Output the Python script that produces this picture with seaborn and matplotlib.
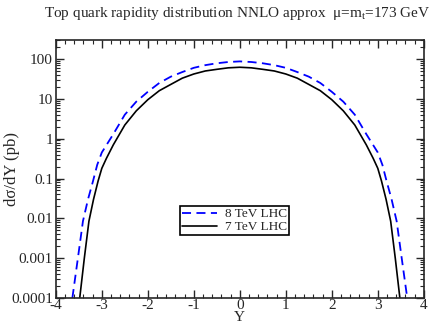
import pandas as pd
import seaborn as sns
import matplotlib
matplotlib.use('Agg')
import matplotlib.pyplot as plt
from matplotlib.ticker import MultipleLocator, LogLocator, FixedLocator

# ------------------ DATA ------------------
y_8tev = [-3.64, -3.52, -3.41, -3.30, -3.19, -3.10, -3.00, -2.75, -2.50, -2.25, -2.00,
          -1.75, -1.50, -1.25, -1.00, -0.75, -0.50, -0.25, 0.00,
          0.25, 0.50, 0.75, 1.00, 1.25, 1.50, 1.75, 2.00,
          2.25, 2.50, 2.75, 3.00, 3.10, 3.19, 3.30, 3.41, 3.52, 3.64]
xs_8tev = [1e-4, 1e-3, 0.0085, 0.03, 0.087, 0.22, 0.45, 1.3, 4.0, 8.5, 15,
           25, 36, 47, 60, 70, 78, 84, 87,
           84, 78, 70, 60, 47, 36, 25, 15,
           8.5, 4.0, 1.3, 0.45, 0.22, 0.087, 0.03, 0.0085, 1e-3, 1e-4]

y_7tev = [-3.48, -3.38, -3.28, -3.18, -3.08, -3.00, -2.90, -2.75, -2.50, -2.25, -2.00,
          -1.75, -1.50, -1.25, -1.00, -0.75, -0.50, -0.25, 0.00,
          0.25, 0.50, 0.75, 1.00, 1.25, 1.50, 1.75, 2.00,
          2.25, 2.50, 2.75, 2.90, 3.00, 3.08, 3.18, 3.28, 3.38, 3.48]
xs_7tev = [1e-4, 1e-3, 0.0085, 0.03, 0.087, 0.18, 0.32, 0.7, 2.2, 5.0, 9.5,
           16, 23, 33, 42, 50, 55, 60, 62,
           60, 55, 50, 42, 33, 23, 16, 9.5,
           5.0, 2.2, 0.7, 0.32, 0.18, 0.087, 0.03, 0.0085, 1e-3, 1e-4]

df8 = pd.DataFrame({'Y': y_8tev, 'xs': xs_8tev})
df7 = pd.DataFrame({'Y': y_7tev, 'xs': xs_7tev})

# ------------------ PLOT ------------------
sns.set_style('ticks')
plt.rcParams['font.family'] = ['Liberation Serif', 'DejaVu Serif']
plt.rcParams['mathtext.fontset'] = 'custom'
plt.rcParams['mathtext.rm'] = 'Liberation Serif'

fig = plt.figure(figsize=(4.36, 3.25), dpi=100)
ax = fig.add_axes([0.128, 0.083, 0.844, 0.794])

sns.lineplot(data=df8, x='Y', y='xs', color='#0000ff', lw=1.3,
             ax=ax, label='8 TeV LHC', linestyle=(0, (5, 3)))
sns.lineplot(data=df7, x='Y', y='xs', color='black', lw=1.2,
             ax=ax, label='7 TeV LHC')

ax.set_yscale('log')
ax.set_xlim(-4, 4)
ax.set_ylim(1e-4, 300)

ax.xaxis.set_major_locator(MultipleLocator(1))
ax.xaxis.set_minor_locator(MultipleLocator(0.2))
ax.yaxis.set_major_locator(FixedLocator([1e-4, 1e-3, 1e-2, 1e-1, 1, 10, 100]))
ax.yaxis.set_minor_locator(LogLocator(base=10, subs=range(2, 10), numticks=20))
ax.set_yticklabels(['0.0001', '0.001', '0.01', '0.1', '1', '10', '100'])
ax.set_xticks(range(-4, 5))
ax.set_xticklabels([str(v) for v in range(-4, 5)])

ax.tick_params(which='both', direction='in', top=True, right=True,
               labelsize=11, pad=2)
ax.tick_params(axis='x', pad=1)
ax.tick_params(which='major', length=6, width=1)
ax.tick_params(which='minor', length=3, width=0.8)
for s in ax.spines.values():
    s.set_linewidth(1.2)

ax.set_xlabel('Y', fontsize=11, va='bottom')
ax.xaxis.set_label_coords(0.5, -0.102)
ax.set_ylabel('dσ/dY (pb)', fontsize=12)
ax.yaxis.set_label_coords(-0.098, 0.5)
fig.suptitle('Top quark rapidity distribution NNLO approx  μ=m$_\\mathrm{t}$=173 GeV',
             fontsize=11, x=0.545, y=0.985)

leg = ax.legend(loc='center', bbox_to_anchor=(0.486, 0.30), fontsize=9.5,
                frameon=True, fancybox=False, handlelength=2.6,
                borderpad=0.15, labelspacing=0.05, handletextpad=0.6,
                borderaxespad=0)
leg.get_frame().set_edgecolor('black')
leg.get_frame().set_linewidth(1.2)
leg.get_frame().set_alpha(1)

fig.savefig('out.png', dpi=100)
